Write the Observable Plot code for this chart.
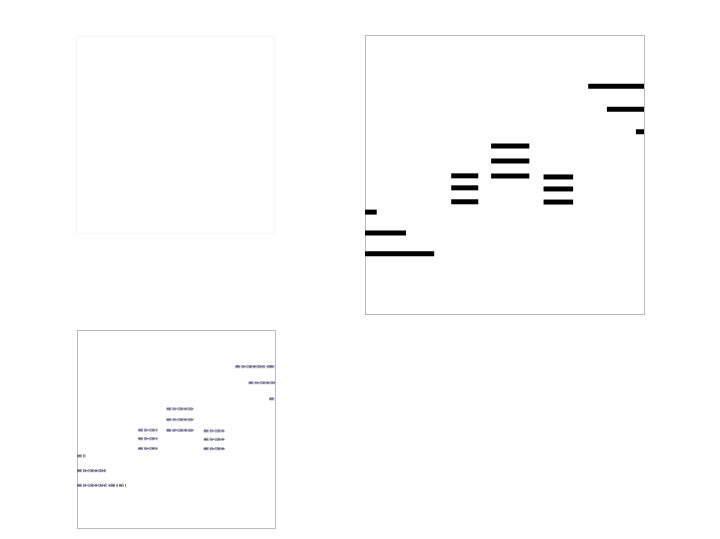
<!DOCTYPE html>
<html>
<head>
<meta charset="utf-8">
<script src="https://cdn.jsdelivr.net/npm/d3@7"></script>
<script src="https://cdn.jsdelivr.net/npm/@observablehq/plot@0.6"></script>
<style>
  html, body { margin: 0; padding: 0; background: white; }
  #wrap { position: relative; width: 720px; height: 539px; overflow: hidden; font-family: "DejaVu Sans", sans-serif; }
  #wrap > div { position: absolute; }
</style>
</head>
<body>
<div id="wrap">
  <div id="p1" style="left:75px; top:35px;"></div>
  <div id="p2" style="left:364px; top:34px;"></div>
  <div id="p3" style="left:76px; top:329px;"></div>
</div>
<script>
// Horizontal stroke segments in image coordinates (0–100, y measured from the top)
const segX1 = [80.0, 86.7, 97.1, 45.2, 45.2, 45.2, 30.9, 30.9, 30.9, 64.0, 64.0, 64.0, 0, 0, 0];
const segX2 = [100, 100, 100, 58.9, 58.9, 58.9, 40.6, 40.6, 40.6, 74.6, 74.6, 74.6, 4.2, 14.7, 24.8];
const segY  = [18.2, 26.4, 34.5, 39.6, 45.0, 50.4, 50.3, 54.6, 59.6, 50.7, 55.0, 59.7, 63.3, 70.8, 78.2];

const segs = segY.map((y, i) => ({x1: segX1[i], x2: segX2[i], y}));

function panel(size, marks, frameColor) {
  return Plot.plot({
    width: size + 2,
    height: size + 2,
    marginTop: 1, marginRight: 1, marginBottom: 1, marginLeft: 1,
    x: {domain: [0, 100], axis: null},
    y: {domain: [0, 100], reverse: true, axis: null},
    marks: [
      Plot.frame({stroke: frameColor, strokeWidth: 1}),
      ...marks
    ]
  });
}

// Top-left: almost blank, very faint image
document.getElementById("p1").append(
  Plot.plot({
    width: 200, height: 199,
    marginTop: 1, marginRight: 1, marginBottom: 1, marginLeft: 1,
    x: {domain: [0, 100], axis: null},
    y: {domain: [0, 100], reverse: true, axis: null},
    marks: [
      Plot.frame({stroke: "#f6f6f6", fill: "#fefefe"})
    ]
  })
);

// Top-right: crisp black strokes
document.getElementById("p2").append(
  panel(279, [
    Plot.ruleY(segs, {x1: "x1", x2: "x2", y: "y", stroke: "black", strokeWidth: 5, clip: true})
  ], "#bbbbbb")
);

// Bottom-left: faint, noisy version of the same strokes
document.getElementById("p3").append(
  panel(198, [
    Plot.ruleY(segs, {x1: "x1", x2: "x2", y: "y", stroke: "#767696", strokeWidth: 3.2,
      strokeOpacity: 0.6, strokeDasharray: "5,1,3,2,6,1,2,1", imageFilter: "blur(0.7px)", clip: true}),
    Plot.ruleY(segs, {x1: "x1", x2: "x2", y: "y", stroke: "#3a3a5c", strokeWidth: 1.4,
      strokeOpacity: 0.6, strokeDasharray: "4,2,1,1,3,3,2,1", imageFilter: "blur(0.4px)", clip: true})
  ], "#bbbbbb")
);
</script>
</body>
</html>
